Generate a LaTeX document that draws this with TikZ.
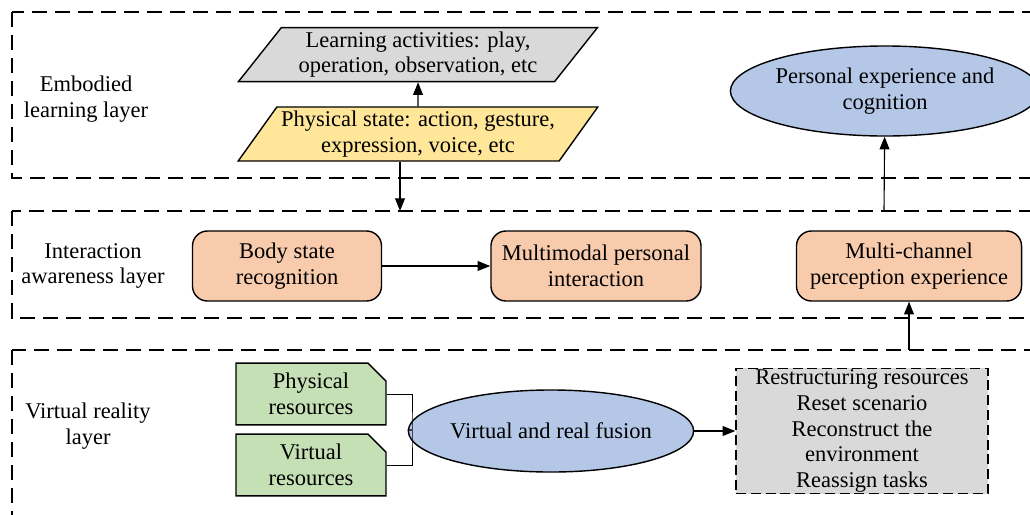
\documentclass[tikz,border=0pt]{standalone}
\usepackage{fontspec}
\setmainfont{Liberation Serif}
\usetikzlibrary{positioning,arrows.meta,shapes.geometric,shapes.misc}

\definecolor{boxorange}{HTML}{F8CBAD}
\definecolor{boxblue}{HTML}{B4C7E7}
\definecolor{boxgreen}{HTML}{C5E0B4}
\definecolor{boxyellow}{HTML}{FFE699}
\definecolor{boxgray}{HTML}{D9D9D9}

\begin{document}
\begin{tikzpicture}[x=0.025cm, y=-0.025cm,
		font=\fontsize{16}{18.4}\selectfont,
		layer/.style={dash pattern=on 0.375cm off 0.2cm, line width=1.2pt},
		para/.style={draw, line width=1pt, trapezium, trapezium left angle=51, trapezium right angle=129, trapezium stretches=true, minimum width=9cm, minimum height=1.35cm, align=center, inner sep=0pt},
		state/.style={draw, line width=1pt, rounded corners=0.375cm, fill=boxorange, minimum height=1.75cm, align=center, inner sep=0pt},
		oval/.style={draw, line width=1pt, ellipse, fill=boxblue, align=center, inner sep=0pt},
		res/.style={draw, line width=1pt, chamfered rectangle, chamfered rectangle corners=north east, chamfered rectangle xsep=0.2cm, chamfered rectangle ysep=0.25cm, fill=boxgreen, minimum width=3.75cm, minimum height=1.3cm, align=center, inner sep=0pt},
		arrow/.style={-{Triangle[length=9pt,width=7pt]}, line width=0.8pt}
	]
	\useasboundingbox (0,0) rectangle (1030,514);

	% Layers
	\draw[layer] (12,12) rectangle (1060,178);
	\draw[layer] (12,211) rectangle (1060,318);
	\draw[layer] (12,350) rectangle (1060,540);
	\node[align=center] (embodied) at (86,99) {Embodied\\learning layer};
	\node[align=center] (aware) at (93,266) {Interaction\\awareness layer};
	\node[align=center] (vr) at (88,426) {Virtual reality\\layer};

	% Embodied learning layer
	\node[para, fill=boxyellow] (phys) at (418,134) {Physical state: action, gesture,\\expression, voice, etc};
	\node[para, fill=boxgray, above=0.6cm of phys] (learn) {Learning activities: play,\\operation, observation, etc};
	\node[oval, minimum width=6cm, minimum height=2.25cm] (exp) at (885,91) {Personal experience and\\cognition};

	% Interaction awareness layer
	\node[state, minimum width=4.725cm] (body) at (287,266) {Body state\\recognition};
	\node[state, minimum width=5.25cm, right=2.7cm of body] (multi) {Multimodal personal\\interaction};
	\node[state, minimum width=5.625cm] (chan) at (909,266) {Multi-channel\\perception experience};

	% Virtual reality layer
	\node[res] (physres) at (311,394) {Physical\\resources};
	\node[res] (virtres) at (311,465) {Virtual\\resources};
	\node[oval, minimum width=5.45cm, minimum height=2.05cm] (fusion) at (551,431) {Virtual and real fusion};
	\node[draw, line width=1pt, dash pattern=on 0.25cm off 0.12cm, fill=boxgray, minimum width=6.3cm, minimum height=3.125cm, align=center, inner sep=0pt] (tasks) at (862,431) {Restructuring resources\\Reset scenario\\Reconstruct the\\environment\\Reassign tasks};

	% Arrows
	\coordinate (join) at (412,430);
	\coordinate (toaware) at (400,211);
	\coordinate (fromaware) at (884,211);
	\coordinate (fromvr) at (909,350);
	\draw[arrow] (phys) -- (learn);
	\draw[arrow] (phys.south -| toaware) -- (toaware);
	\draw[arrow] (fromaware) -- (exp);
	\draw[arrow] (body) -- (multi);
	\draw[arrow] (fromvr) -- (chan);
	\draw[line width=0.6pt] (physres.east) -| (join) |- (virtres.east);
	\draw[line width=0.8pt] (join) -- (fusion);
	\draw[arrow] (fusion) -- (tasks);
\end{tikzpicture}
\end{document}
